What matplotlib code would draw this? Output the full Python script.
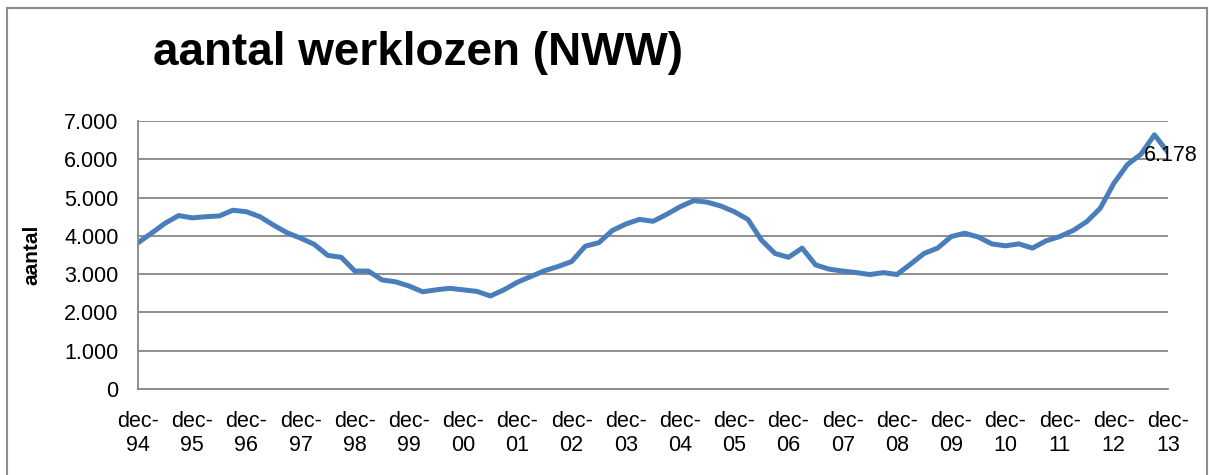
import matplotlib.pyplot as plt
from matplotlib.patches import Rectangle

plt.rcParams['font.family'] = ['Liberation Sans', 'DejaVu Sans']

# kwartaalwaarden dec-94 .. dec-13
werklozen = [3820, 4070, 4330, 4530, 4470, 4500, 4520, 4670, 4630, 4500,
             4280, 4080, 3940, 3780, 3490, 3440, 3080, 3080, 2850, 2800,
             2690, 2540, 2590, 2630, 2590, 2550, 2430, 2590, 2790, 2940,
             3090, 3200, 3330, 3730, 3820, 4140, 4310, 4430, 4380, 4560,
             4760, 4920, 4880, 4780, 4630, 4430, 3890, 3540, 3440, 3680,
             3240, 3130, 3080, 3040, 2990, 3040, 2990, 3260, 3540, 3680,
             3980, 4070, 3970, 3790, 3740, 3790, 3680, 3870, 3980, 4140,
             4370, 4720, 5370, 5860, 6130, 6640, 6178]
jaren = ['94', '95', '96', '97', '98', '99', '00', '01', '02', '03',
         '04', '05', '06', '07', '08', '09', '10', '11', '12', '13']
y_ticks = [0, 1000, 2000, 3000, 4000, 5000, 6000, 7000]
y_labels = ['0', '1.000', '2.000', '3.000', '4.000', '5.000', '6.000', '7.000']

fig = plt.figure(figsize=(12.09, 4.75), dpi=100)
fig.patches.append(Rectangle((7 / 1209, -0.1), 1200 / 1209, 1.1 - 8 / 475,
                             transform=fig.transFigure, fill=False,
                             edgecolor='#8c8c8c', linewidth=1.5))

ax = fig.add_axes([138 / 1209, 1 - 389 / 475, 1030 / 1209, 268 / 475])
x = list(range(len(werklozen)))
ax.plot(x, werklozen, color='#4a7ebb', linewidth=3.6, solid_joinstyle='round')

ax.set_xlim(0, len(werklozen) - 1)
ax.set_ylim(0, 7000)
ax.set_yticks(y_ticks)
ax.set_yticklabels(y_labels)
ax.set_xticks(x[::4])
ax.set_xticklabels(['dec-\n' + j for j in jaren])
ax.tick_params(axis='y', length=0, pad=14, labelsize=15.5)
ax.tick_params(axis='x', length=0, pad=16, labelsize=15.5)

ax.grid(axis='y', color='#868686', linewidth=1.3)
ax.set_axisbelow(True)
for s in ['top', 'right']:
    ax.spines[s].set_visible(False)
for s in ['left', 'bottom']:
    ax.spines[s].set_color('#868686')
    ax.spines[s].set_linewidth(1.3)

ax.set_ylabel('aantal', fontsize=15, fontweight='bold')
ax.yaxis.set_label_coords(-0.094, 0.5)

ax.annotate(f'{werklozen[-1] / 1000:.3f}', (x[-1], werklozen[-1]),
            xytext=(-24, -3), textcoords='offset pixels',
            ha='left', va='center', fontsize=15.5, annotation_clip=False)

fig.text(153 / 1209, 1 - 65 / 475, 'aantal werklozen (NWW)', fontsize=33,
         fontweight='bold', ha='left', va='baseline')

fig.savefig('out.png', dpi=100)
